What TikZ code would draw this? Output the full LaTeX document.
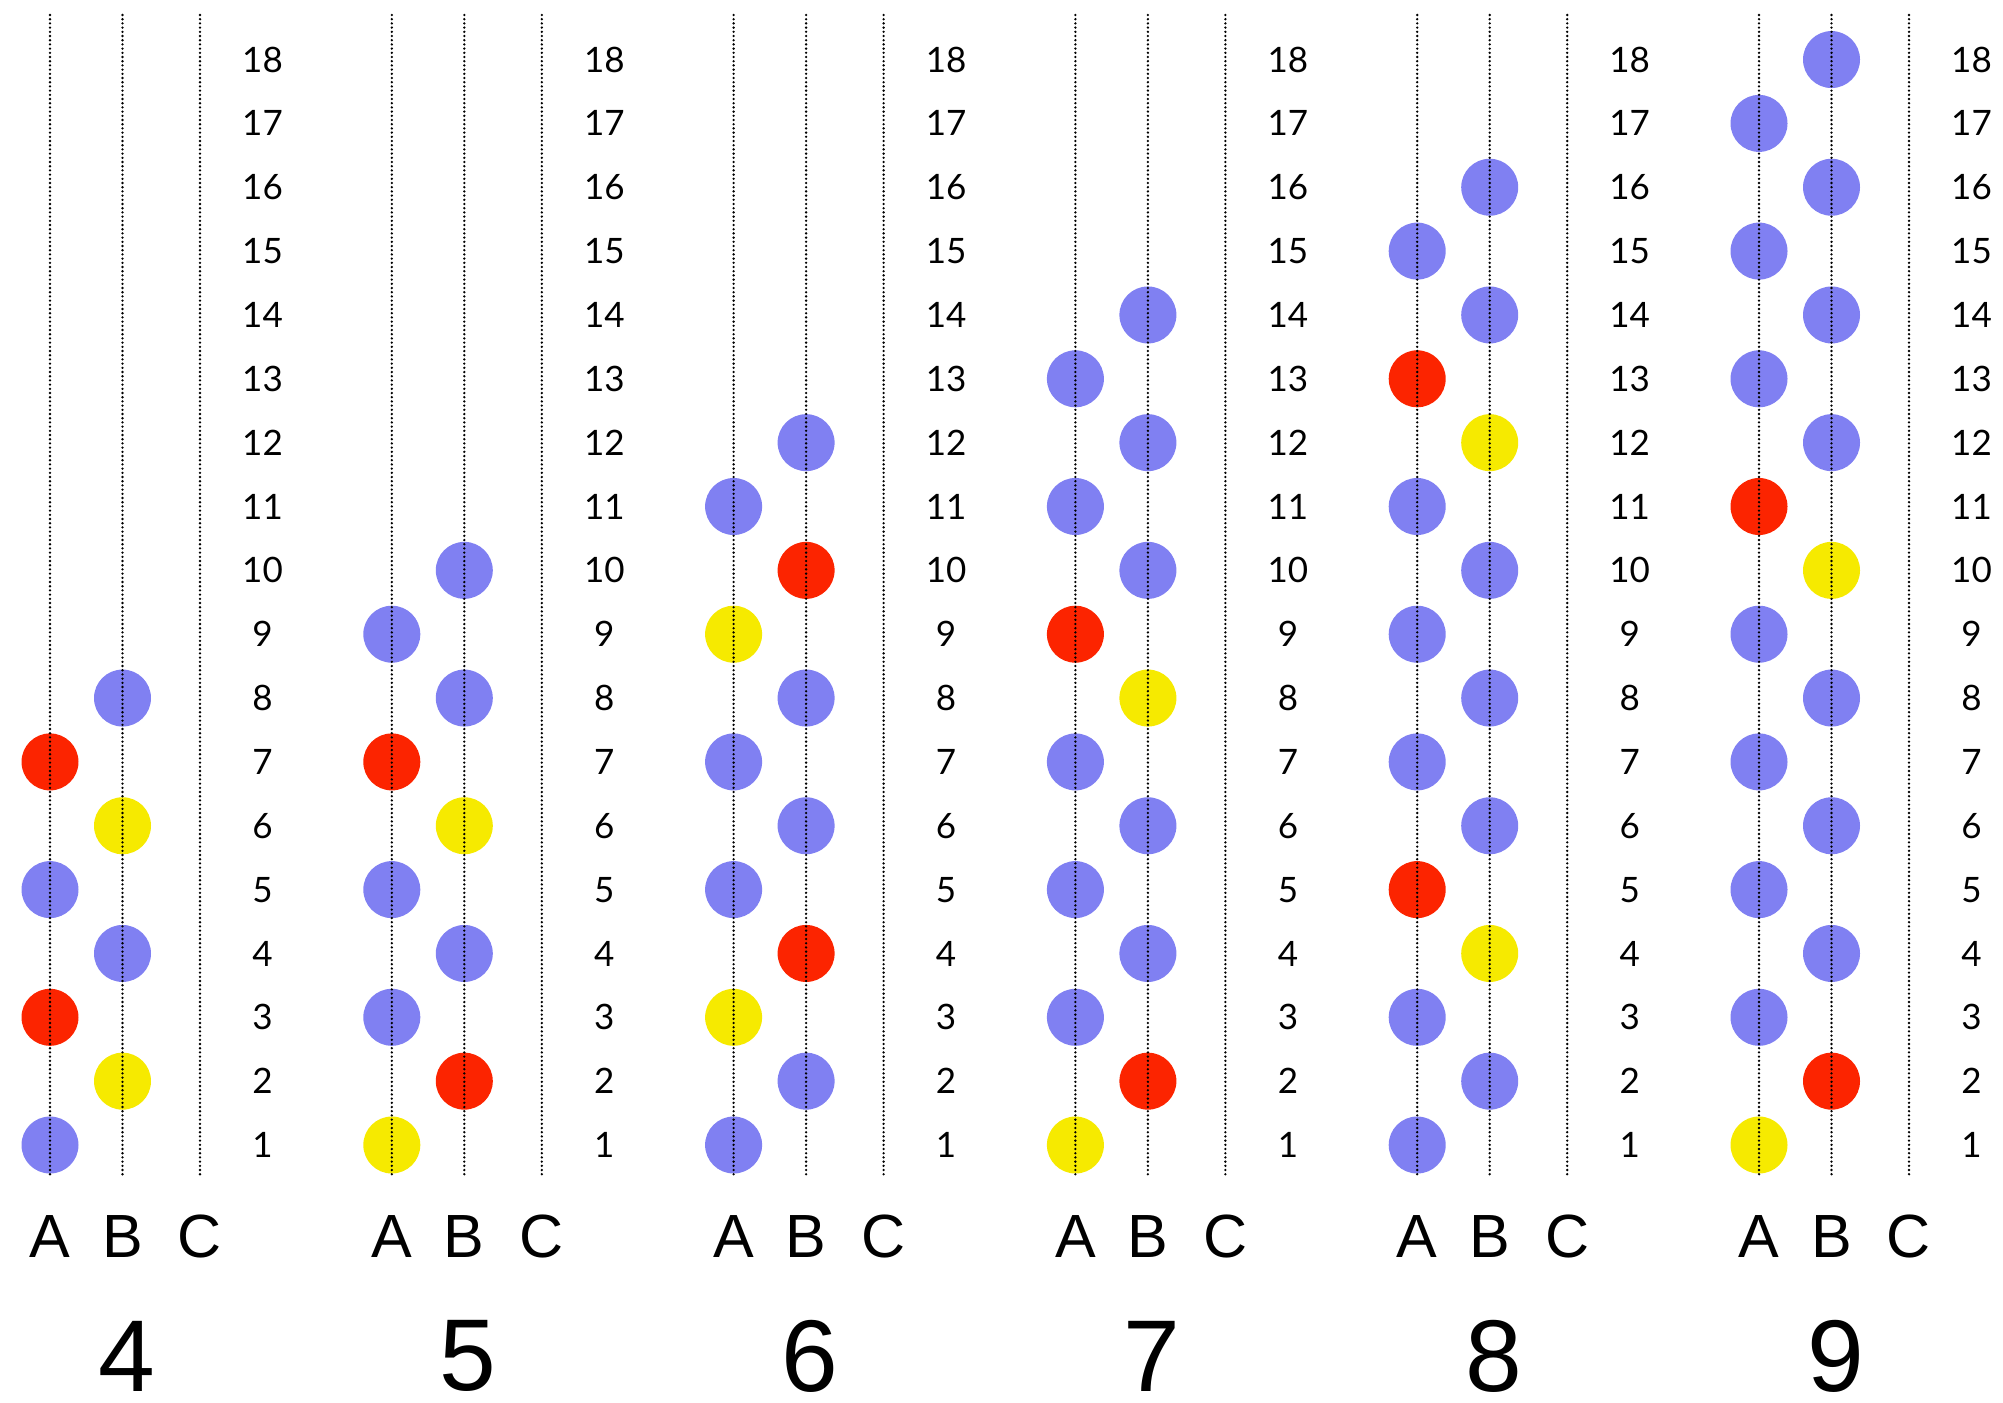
\documentclass[tikz,border=0pt]{standalone}
\usepackage{fontspec}
\setmainfont{Liberation Sans}
\newfontfamily\numfont{Lato}
\definecolor{dotblue}{RGB}{128,128,242}
\definecolor{dotred}{RGB}{252,36,0}
\definecolor{dotyellow}{RGB}{246,234,0}
\tikzset{
  ball/.style={circle, inner sep=0pt, minimum size=28.5pt, draw=none},
  ballb/.style={ball, fill=dotblue},
  ballr/.style={ball, fill=dotred},
  bally/.style={ball, fill=dotyellow},
  colline/.style={line width=1.3pt, line cap=round, dash pattern=on 0pt off 2.1pt, black},
  rownum/.style={inner sep=0pt, font=\numfont\fontsize{17.5}{20}\selectfont},
  collabel/.style={inner sep=0pt, font=\fontsize{30.5}{34}\selectfont},
  paneltitle/.style={inner sep=0pt, font=\fontsize{51}{58}\selectfont}
}
\begin{document}
\begin{tikzpicture}[x=0.5pt,y=-0.5pt]
\useasboundingbox (0,0) rectangle (2003,1403);
\foreach \p/\k/\cols in {
  4/0/{b,y,r,b,b,y,r,b},
  5/1/{y,r,b,b,b,y,r,b,b,b},
  6/2/{b,b,y,r,b,b,b,b,y,r,b,b},
  7/3/{y,r,b,b,b,b,b,y,r,b,b,b,b,b},
  8/4/{b,b,b,y,r,b,b,b,b,b,b,y,r,b,b,b},
  9/5/{y,r,b,b,b,b,b,b,b,y,r,b,b,b,b,b,b,b}} {
  \pgfmathsetmacro\ax{50+341.8*\k}
  \pgfmathsetmacro\bx{\ax+72.5}
  \pgfmathsetmacro\cx{\ax+150}
  \pgfmathsetmacro\nx{\ax+212.5}
  \coordinate (p\p At) at (\ax,15);
  \coordinate (p\p Ab) at (\ax,1178);
  \coordinate (p\p Bt) at (\bx,15);
  \coordinate (p\p Bb) at (\bx,1178);
  \coordinate (p\p Ct) at (\cx,15);
  \coordinate (p\p Cb) at (\cx,1178);
  % balls
  \foreach \c [count=\r] in \cols {
    \pgfmathsetmacro\yy{1145-(\r-1)*63.85}
    \pgfmathtruncatemacro\odd{mod(\r,2)}
    \ifnum\odd=1
      \node[ball\c] (p\p A\r) at (\ax,\yy) {};
    \else
      \node[ball\c] (p\p B\r) at (\bx,\yy) {};
    \fi
  }
  % dotted column lines
  \draw[colline] (p\p At) -- (p\p Ab);
  \draw[colline] (p\p Bt) -- (p\p Bb);
  \draw[colline] (p\p Ct) -- (p\p Cb);
  % row numbers
  \foreach \r in {1,...,18} {
    \pgfmathsetmacro\yy{1145-(\r-1)*63.85}
    \node[rownum] (p\p n\r) at (\nx,\yy) {\r};
  }
  % column labels
  \node[collabel] (p\p labA) at (\ax,1236) {A};
  \node[collabel] (p\p labB) at (\bx,1236) {B};
  \node[collabel] (p\p labC) at (\cx,1236) {C};
  % panel title
  \node[paneltitle] (p\p title) at (\bx+4,1356) {\p};
}
\end{tikzpicture}
\end{document}
